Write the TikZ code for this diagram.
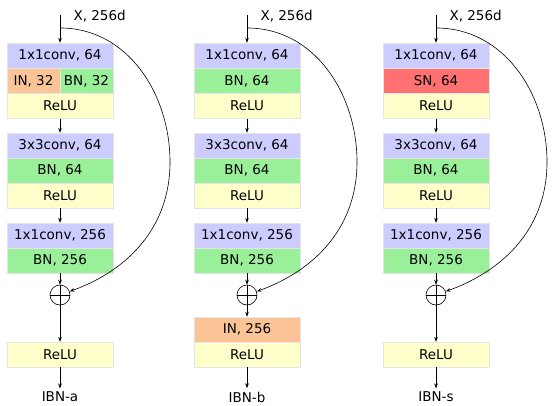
\documentclass[tikz,border=0pt]{standalone}
\usepackage{fontspec}
\setmainfont{DejaVu Sans}
\usepackage{xcolor}
\usetikzlibrary{arrows.meta}
\definecolor{convblue}{RGB}{204,204,255}
\definecolor{bngreen}{RGB}{153,240,153}
\definecolor{reluyellow}{RGB}{255,255,204}
\definecolor{inorange}{RGB}{250,196,150}
\definecolor{snred}{RGB}{255,112,112}
\tikzset{
  blk/.style={minimum width=106pt, minimum height=25pt, inner sep=0pt,
    draw=black!10, line width=0.4pt, font=\fontsize{13.5}{15}\selectfont},
  conv/.style={blk, fill=convblue},
  bn/.style={blk, fill=bngreen},
  inn/.style={blk, fill=inorange},
  sn/.style={blk, fill=snred},
  relu/.style={blk, fill=reluyellow},
  half/.style={minimum width=53pt},
  flow/.style={-{Stealth[length=5pt,width=3.6pt]}, line width=0.6pt},
  plus/.style={circle, draw, line width=0.6pt, minimum size=20pt, inner sep=0pt},
  lbl/.style={font=\fontsize{13.5}{15}\selectfont}
}

\begin{document}
\begin{tikzpicture}[x=1pt, y=-1pt]
\useasboundingbox (0,0) rectangle (553,406);

% ---------------- LEFT: IBN-a ----------------
\begin{scope}
\coordinate (ain) at (60,15);
\coordinate (askip) at (60,28);
\coordinate (abend) at (170,162);
\node[lbl, anchor=west] (ax) at (70,16) {X, 256d};
% Blocks
\node[conv] (a1) at (60,55.5) {1x1conv, 64};
\node[inn, half] (a2l) at (33.5,81) {IN, 32};
\node[bn, half] (a2r) at (86.5,81) {BN, 32};
\node[relu] (a3) at (60,106) {ReLU};
\node[conv] (a4) at (60,145.5) {3x3conv, 64};
\node[bn] (a5) at (60,170.5) {BN, 64};
\node[relu] (a6) at (60,195.5) {ReLU};
\node[conv] (a7) at (60,235.5) {1x1conv, 256};
\node[bn] (a8) at (60,260.5) {BN, 256};
\node[plus] (aplus) at (60,295) {};
\node[relu] (a9) at (60,354.5) {ReLU};
\node[lbl] (aname) at (60,397) {IBN-a};
% Arrows
\draw[flow] (ain) -- (a1);
\draw[flow] (a3) -- (a4);
\draw[flow] (a6) -- (a7);
\draw[flow] (a8) -- (aplus);
\draw[flow] (aplus) -- (a9);
\draw[flow] (a9) -- (aname);
\draw (aplus.north) -- (aplus.south) (aplus.west) -- (aplus.east);
\draw[flow] (askip) to[out=0, in=90] (abend) to[out=-90, in=20] (aplus);
\end{scope}

% ---------------- MIDDLE: IBN-b ----------------
\begin{scope}[xshift=187pt]
\coordinate (bin) at (60,15);
\coordinate (bskip) at (60,28);
\coordinate (bbend) at (170,162);
\node[lbl, anchor=west] (bx) at (70,16) {X, 256d};
% Blocks
\node[conv] (b1) at (60,55.5) {1x1conv, 64};
\node[bn] (b2) at (60,81) {BN, 64};
\node[relu] (b3) at (60,106) {ReLU};
\node[conv] (b4) at (60,145.5) {3x3conv, 64};
\node[bn] (b5) at (60,170.5) {BN, 64};
\node[relu] (b6) at (60,195.5) {ReLU};
\node[conv] (b7) at (60,235.5) {1x1conv, 256};
\node[bn] (b8) at (60,260.5) {BN, 256};
\node[plus] (bplus) at (60,295) {};
\node[inn] (b9) at (60,329.5) {IN, 256};
\node[relu] (b10) at (60,354.5) {ReLU};
\node[lbl] (bname) at (60,397) {IBN-b};
% Arrows
\draw[flow] (bin) -- (b1);
\draw[flow] (b3) -- (b4);
\draw[flow] (b6) -- (b7);
\draw[flow] (b8) -- (bplus);
\draw[flow] (bplus) -- (b9);
\draw[flow] (b10) -- (bname);
\draw (bplus.north) -- (bplus.south) (bplus.west) -- (bplus.east);
\draw[flow] (bskip) to[out=0, in=90] (bbend) to[out=-90, in=20] (bplus);
\end{scope}

% ---------------- RIGHT: IBN-s ----------------
\begin{scope}[xshift=376pt]
\coordinate (cin) at (60,15);
\coordinate (cskip) at (60,28);
\coordinate (cbend) at (171,162);
\node[lbl, anchor=west] (cx) at (70,16) {X, 256d};
% Blocks
\node[conv] (c1) at (60,55.5) {1x1conv, 64};
\node[sn] (c2) at (60,81) {SN, 64};
\node[relu] (c3) at (60,106) {ReLU};
\node[conv] (c4) at (60,145.5) {3x3conv, 64};
\node[bn] (c5) at (60,170.5) {BN, 64};
\node[relu] (c6) at (60,195.5) {ReLU};
\node[conv] (c7) at (60,235.5) {1x1conv, 256};
\node[bn] (c8) at (60,260.5) {BN, 256};
\node[plus] (cplus) at (60,295) {};
\node[relu] (c9) at (60,354.5) {ReLU};
\node[lbl] (cname) at (60,397) {IBN-s};
% Arrows
\draw[flow] (cin) -- (c1);
\draw[flow] (c3) -- (c4);
\draw[flow] (c6) -- (c7);
\draw[flow] (c8) -- (cplus);
\draw[flow] (cplus) -- (c9);
\draw[flow] (c9) -- (cname);
\draw (cplus.north) -- (cplus.south) (cplus.west) -- (cplus.east);
\draw[flow] (cskip) to[out=0, in=90] (cbend) to[out=-90, in=20] (cplus);
\end{scope}
\end{tikzpicture}
\end{document}
